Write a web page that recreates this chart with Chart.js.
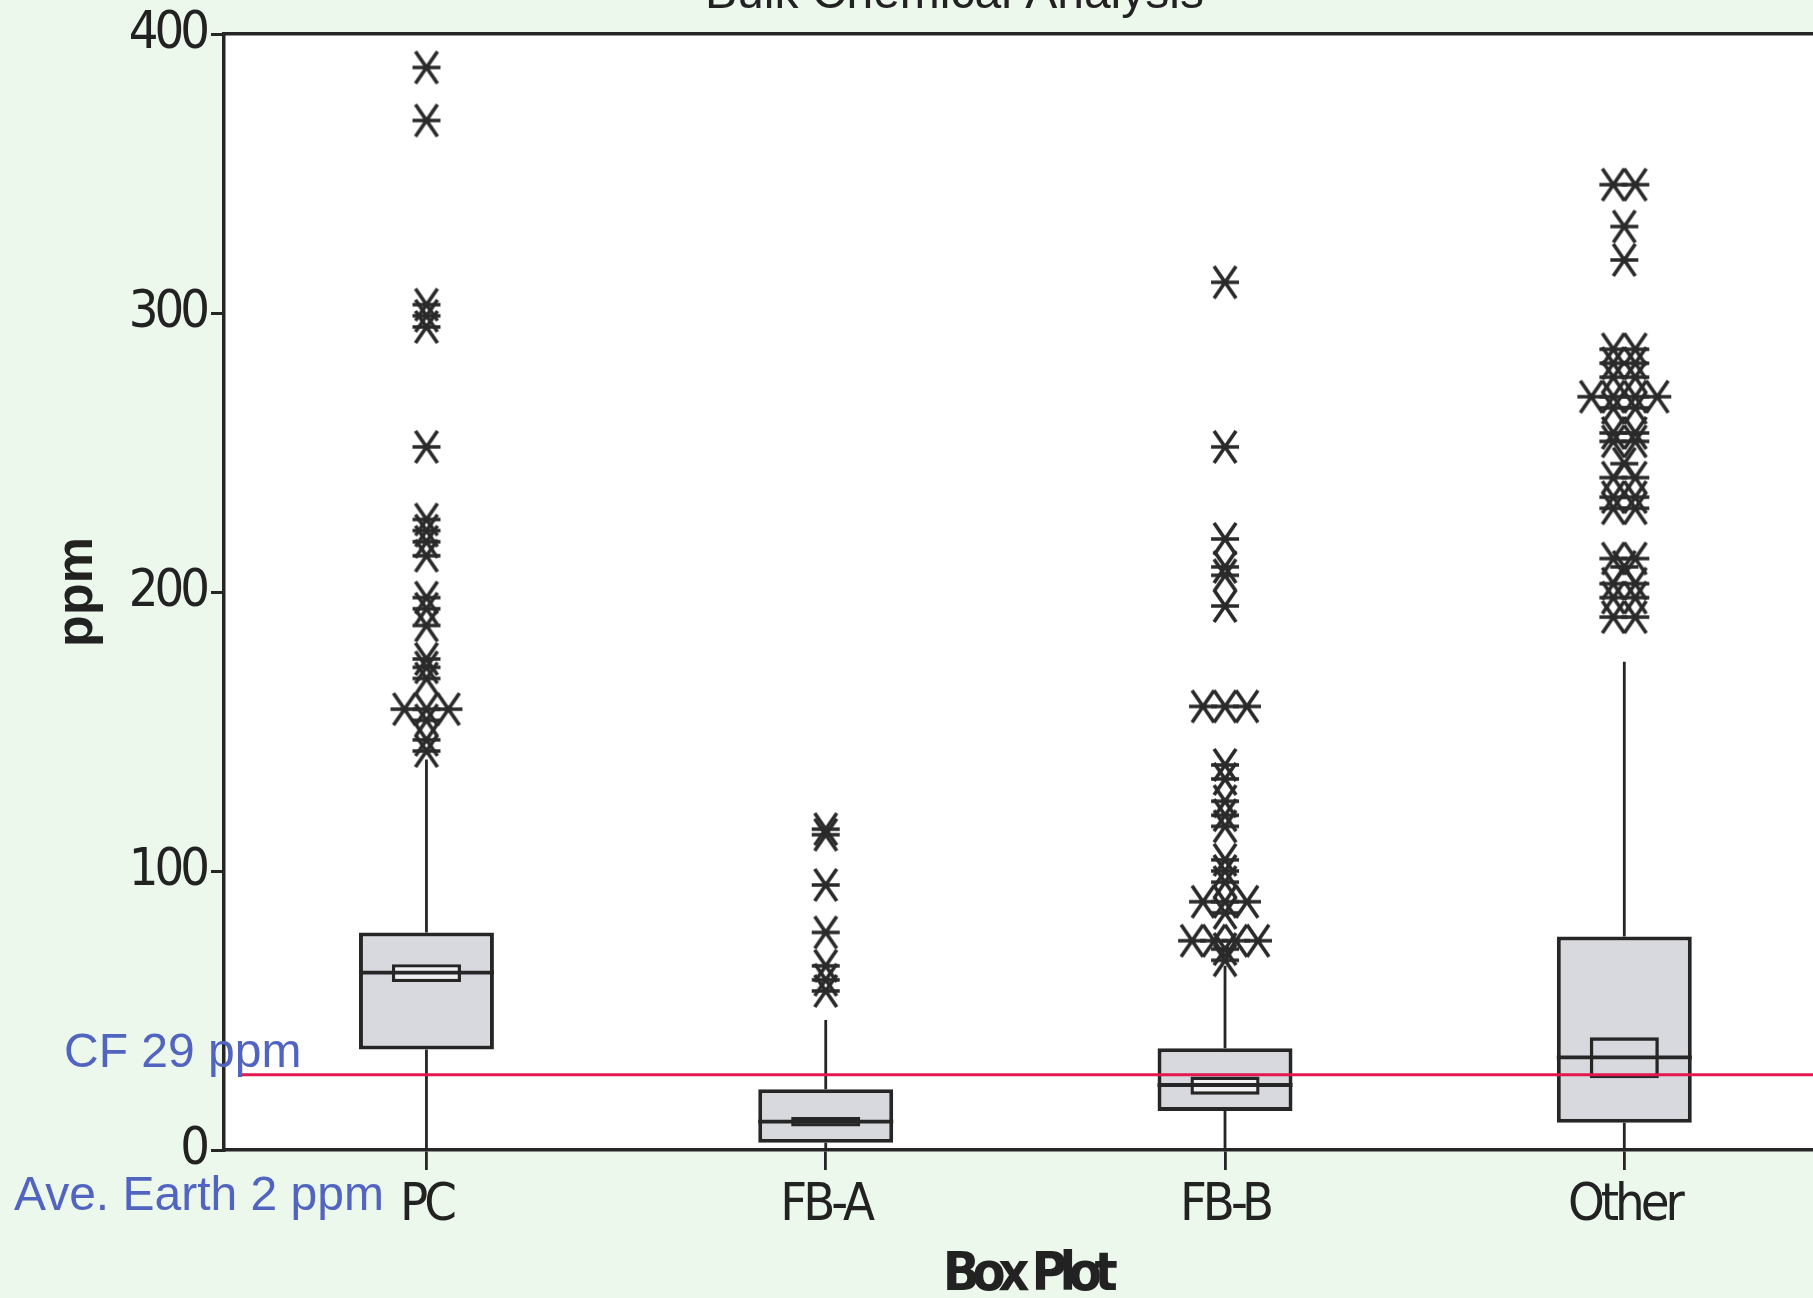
<!DOCTYPE html>
<html>
<head>
<meta charset="utf-8">
<script src="https://cdn.jsdelivr.net/npm/chart.js@4.4.1/dist/chart.umd.min.js"></script>
<style>
  html, body { margin: 0; padding: 0; width: 1813px; height: 1298px; overflow: hidden; background: #edf8ed; }
  #wrap { position: absolute; left: 0; top: -34px; width: 1909px; height: 1380px; }
  canvas { display: block; }
</style>
</head>
<body>
<div id="wrap"><canvas id="c" width="1909" height="1380"></canvas></div>
<script>
// ---------------- data ----------------
const categories  = ['PC', 'FB-A', 'FB-B', 'Other'];
const q1          = [36, 2.6, 14, 9.8];
const q3          = [78, 21.8, 36.5, 76.5];
const medians     = [63.6, 10.2, 23.3, 33.2];
const ciLow       = [60.2, 8.4, 19.8, 25.7];
const ciHigh      = [66.6, 11.8, 26.3, 40.4];
const whiskerLow  = [0, 0, 0, 0];
const whiskerHigh = [140, 46.6, 66, 175];
const outliersPC    = [388, 369, 303, 299, 295, 252, 226, 222, 218, 213, 198, 194, 188, 176, 173, 169, 158, 158, 158, 154, 147, 143];
const outliersFBA   = [115, 113, 95, 78, 66, 61, 57];
const outliersFBB   = [311, 252, 219, 209, 206, 195, 159, 159, 159, 138, 133, 125, 120, 116, 104, 100, 96, 89, 89, 89, 85, 75, 75, 75, 75, 72, 68];
const outliersOther = [346, 346, 331, 319, 287, 287, 282, 282, 277, 277, 270, 270, 270, 270, 266, 266, 257, 257, 254, 254, 246, 241, 241, 234, 234, 230, 230, 212, 212, 209, 203, 203, 198, 198, 191, 191];
const outliers = [outliersPC, outliersFBA, outliersFBB, outliersOther];
const cfLevel = 27;            // CF reference line
const yTicks = [0, 100, 200, 300, 400];
const titleText = 'Bulk Chemical Analysis';
const cfLabel = 'CF 29 ppm';
const earthLabel = 'Ave. Earth 2 ppm';

// ---------------- styles ----------------
const BOX_FRAC = 0.338, CI_FRAC = 0.173, TIE_STEP = 0.055;
const INK = '#262626';
const X_MIN = -0.507, X_MAX = 3.713;
const COND = "'Liberation Sans Narrow', 'DejaVu Sans Condensed', sans-serif";
const ARIAL = "'Liberation Sans', Arial, sans-serif";

// star marker
const STAR = (() => {
  const c = document.createElement('canvas'); c.width = 32; c.height = 38;
  const g = c.getContext('2d');
  g.strokeStyle = '#2a2a2a'; g.lineWidth = 3.7; g.lineCap = 'butt';
  g.beginPath();
  g.moveTo(2, 19); g.lineTo(30, 19);
  g.moveTo(5, 3); g.lineTo(27, 35);
  g.moveTo(27, 3); g.lineTo(5, 35);
  g.stroke();
  return c;
})();

// ---------------- derived datasets ----------------
const boxData = categories.map((_, i) => ({ x: i, y: [q1[i], q3[i]] }));
const ciData  = categories.map((_, i) => ({ x: i, y: [ciLow[i], ciHigh[i]] }));
const whiskerData = [];
categories.forEach((_, i) => {
  whiskerData.push({ x: i, y: q3[i] }, { x: i, y: whiskerHigh[i] }, { x: i, y: null });
  whiskerData.push({ x: i, y: q1[i] }, { x: i, y: whiskerLow[i] }, { x: i, y: null });
});
const medianData = [];
categories.forEach((_, i) => {
  medianData.push({ x: i - BOX_FRAC / 2, y: medians[i] }, { x: i + BOX_FRAC / 2, y: medians[i] }, { x: i, y: null });
});
const outlierData = [];
outliers.forEach((vals, i) => {
  const groups = {};
  vals.forEach(v => { (groups[v] = groups[v] || []).push(v); });
  Object.keys(groups).forEach(k => {
    const n = groups[k].length;
    groups[k].forEach((v, j) => outlierData.push({ x: i + (j - (n - 1) / 2) * TIE_STEP, y: v }));
  });
});
const cfData = [{ x: -0.47, y: cfLevel }, { x: X_MAX, y: cfLevel }];

// ---------------- plugins ----------------
function withSpacing(fn, sp, dx) {
  return function (...args) {
    const ctx = this.ctx; ctx.save(); ctx.letterSpacing = sp;
    if (dx) ctx.translate(dx, 0);
    fn.apply(this, args); ctx.restore();
  };
}
const plotBg = {
  id: 'plotBg',
  beforeDraw(chart) {
    const sx = chart.scales.x, sy = chart.scales.y;
    if (!sx._spaced) { sx.drawLabels = withSpacing(sx.drawLabels, '-4px'); sx.drawTitle = withSpacing(sx.drawTitle, '-7.5px', -40); sx._spaced = true; }
    if (!sy._spaced) { sy.drawLabels = withSpacing(sy.drawLabels, '-4px'); sy._spaced = true; }
    const a = chart.chartArea, ctx = chart.ctx;
    ctx.save(); ctx.fillStyle = '#ffffff';
    ctx.fillRect(a.left, a.top, a.right - a.left, a.bottom - a.top);
    ctx.restore();
  }
};
const notes = {
  id: 'notes',
  afterDraw(chart) {
    const ctx = chart.ctx, y = chart.scales.y;
    ctx.save();
    ctx.letterSpacing = '0px';
    ctx.fillStyle = '#5064c0';
    ctx.font = '48px ' + ARIAL;
    ctx.textBaseline = 'alphabetic';
    ctx.textAlign = 'left';
    ctx.fillText(cfLabel, 64, y.getPixelForValue(cfLevel) - 8);
    ctx.fillText(earthLabel, 14, y.getPixelForValue(0) + 60);
    ctx.restore();
  }
};

new Chart(document.getElementById('c'), {
  type: 'bar',
  data: {
    datasets: [
      { type: 'bar', label: 'box', data: boxData, order: 6, grouped: false,
        categoryPercentage: 1, barPercentage: BOX_FRAC,
        backgroundColor: '#d8d8df', borderColor: INK, borderWidth: 4, borderSkipped: false },
      { type: 'bar', label: 'ci', data: ciData, order: 5, grouped: false,
        categoryPercentage: 1, barPercentage: CI_FRAC,
        backgroundColor: ['#f1f1f4', '#262626', '#f1f1f4', 'rgba(0,0,0,0)'], borderColor: INK, borderWidth: 3.4, borderSkipped: false },
      { type: 'line', label: 'whiskers', data: whiskerData, order: 4, borderColor: INK, borderWidth: 2.8,
        pointRadius: 0, spanGaps: false, tension: 0, fill: false },
      { type: 'line', label: 'medians', data: medianData, order: 3, borderColor: INK, borderWidth: 3.8,
        pointRadius: 0, spanGaps: false, tension: 0, fill: false },
      { type: 'line', label: 'CF', data: cfData, order: 1, borderColor: '#e2184e', borderWidth: 3,
        pointRadius: 0, tension: 0, fill: false },
      { type: 'scatter', label: 'outliers', data: outlierData, order: 0, pointStyle: STAR, pointRadius: 12,
        pointHoverRadius: 12, showLine: false }
    ]
  },
  options: {
    responsive: false,
    animation: false,
    devicePixelRatio: 1,
    layout: { autoPadding: false, padding: { left: 0, right: 0, top: 0, bottom: 37.6 } },
    plugins: {
      legend: { display: false },
      tooltip: { enabled: false },
      title: { display: true, text: titleText, color: '#222',
        font: { family: ARIAL, size: 48, weight: 'normal' }, padding: { top: 0, bottom: 10.4 } }
    },
    scales: {
      x: {
        type: 'linear', position: 'bottom', min: X_MIN, max: X_MAX, offset: false,
        afterBuildTicks: s => { s.ticks = categories.map((_, i) => ({ value: i })); },
        afterFit: s => { s.height = 158.4; },
        ticks: { autoSkip: false, maxRotation: 0, padding: 5, color: '#222',
          font: { family: COND, size: 52 }, callback: v => categories[v] ?? '' },
        grid: { display: true, offset: false, drawOnChartArea: false, drawTicks: true, tickLength: 20,
          tickWidth: 2.8, tickColor: INK, color: INK, lineWidth: 2.8 },
        border: { display: true, color: INK, width: 3.5 },
        title: { display: true, text: 'Box Plot', color: '#222',
          font: { family: COND, size: 54, weight: 'bold' }, padding: { top: 0, bottom: 0 } }
      },
      x2: {
        type: 'linear', position: 'top', min: X_MIN, max: X_MAX, offset: false,
        afterFit: s => { s.height = 0; },
        ticks: { display: false },
        grid: { display: false, drawTicks: false },
        border: { display: true, color: INK, width: 3.5 }
      },
      y: {
        type: 'linear', position: 'left', min: 0, max: 400,
        afterBuildTicks: s => { s.ticks = yTicks.map(v => ({ value: v })); },
        afterFit: s => { s.width = 224; },
        ticks: { padding: 5, color: '#222', font: { family: COND, size: 52 } },
        grid: { display: true, drawOnChartArea: false, drawTicks: true, tickLength: 13,
          tickWidth: 3, tickColor: INK, color: INK, lineWidth: 3 },
        border: { display: true, color: INK, width: 3.5 },
        title: { display: true, text: 'ppm', color: '#222',
          font: { family: ARIAL, size: 52, weight: 'bold' }, padding: { top: 46, bottom: 0 } }
      }
    }
  },
  plugins: [plotBg, notes]
});
</script>
</body>
</html>
